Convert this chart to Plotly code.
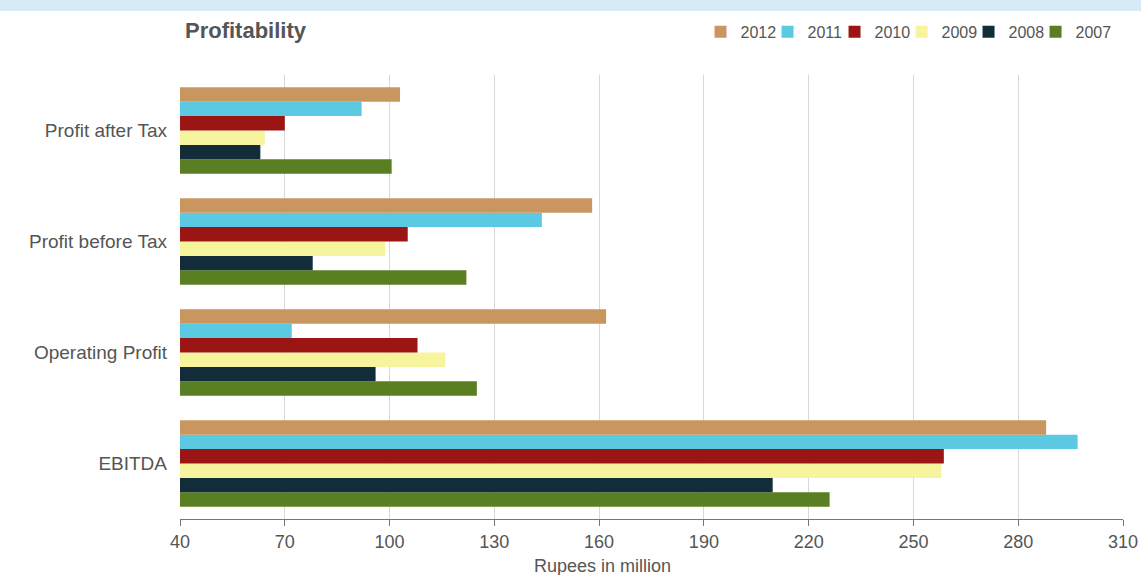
import plotly.graph_objects as go

categories = ["EBITDA", "Operating Profit", "Profit before Tax", "Profit after Tax"]
years = ["2007", "2008", "2009", "2010", "2011", "2012"]
v2007 = [226, 125, 122, 100.6]
v2008 = [209.7, 96, 78, 63]
v2009 = [258, 116, 98.7, 64.3]
v2010 = [258.7, 108, 105.2, 70]
v2011 = [297, 72, 143.6, 92]
v2012 = [288, 162, 158, 103]
series = [v2007, v2008, v2009, v2010, v2011, v2012]
colors = ["#5a7f22", "#132c3a", "#f6f49c", "#9b1515", "#5cc9e2", "#c99660"]
tickvals = [40, 70, 100, 130, 160, 190, 220, 250, 280, 310]

fig = go.Figure()
# invisible spacer entry so the last legend label is not clipped
fig.add_trace(go.Scatter(x=[None], y=[None], mode="markers", name=" ",
                         marker=dict(color="rgba(0,0,0,0)", opacity=0), hoverinfo="skip"))
for y, vals, c in zip(years, series, colors):
    fig.add_trace(go.Bar(
        y=categories, x=vals, name=y, orientation="h",
        marker=dict(color=c, line=dict(width=0)),
    ))

fig.update_layout(
    width=1141, height=575,
    margin=dict(l=180, r=18, t=75, b=56, autoexpand=False),
    paper_bgcolor="white", plot_bgcolor="white",
    barmode="group", bargap=0.22, bargroupgap=0,
    font=dict(family="Liberation Sans, Arial, sans-serif", color="#555555", size=14),
    legend=dict(orientation="h", traceorder="reversed",
                x=0.552, xanchor="left", y=1.097, yanchor="middle",
                font=dict(size=16, color="#555555"), itemwidth=30,
                entrywidth=22, entrywidthmode="pixels",
                bgcolor="rgba(0,0,0,0)"),
    xaxis=dict(range=[40, 310], tickvals=tickvals, showgrid=True, automargin=False,
               gridcolor="#d8d8d8", gridwidth=1, zeroline=False,
               showline=True, linecolor="#777777", linewidth=1,
               ticks="outside", ticklen=6, tickcolor="#777777",
               tickfont=dict(size=18, color="#555555")),
    yaxis=dict(type="category", categoryorder="array", categoryarray=categories,
               showgrid=False, automargin=False,
               tickfont=dict(size=19, color="#555555"), ticklabelstandoff=12,
               showline=False),
    shapes=[dict(type="rect", xref="paper", yref="paper", x0=-0.2, x1=1.1,
                 y0=(519 - 0) / 444 + 0.1, y1=(519 - 11) / 444,
                 fillcolor="#d6ebf7", line=dict(width=0), layer="below")],
    annotations=[
        dict(text="<b>Profitability</b>", xref="paper", yref="paper",
             x=0.003, y=(519 - 31) / 444, xanchor="left", yanchor="middle",
             showarrow=False, font=dict(size=22, color="#555555")),
        dict(text="Rupees in million", xref="paper", yref="paper",
             x=(602 - 180) / 943, y=(519 - 566) / 444, xanchor="center", yanchor="middle",
             showarrow=False, font=dict(size=18, color="#555555")),
    ],
)

fig.write_html("out.html")
